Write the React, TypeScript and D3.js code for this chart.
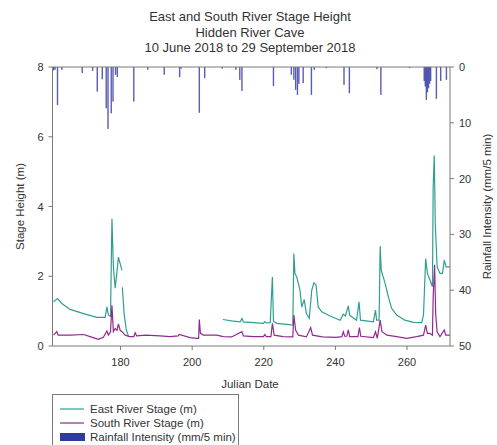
import React from "react";
import * as d3 from "d3";

const titleLines = [
  "East and South River Stage Height",
  "Hidden River Cave",
  "10 June 2018 to 29 September 2018",
];

const stageTicks = [0, 2, 4, 6, 8];
const dayTicks = [180, 200, 220, 240, 260];
const rainTicks = [0, 10, 20, 30, 40, 50];

// East River stage (m); NaN marks a gap in the record
const eastDay = [161.3, 162.4, 163.6, 165.9, 169.7, 173.4, 175.7, 176.2, 176.6, 177.2, 177.6, 178.0, 178.5, 179.0, 179.4, 179.9, 180.4,
  180.45,
  180.5, 181.0, 181.6, 182.2,
  182.3,
  208.6, 211.0, 213.4, 213.9, 214.3, 217.1, 219.9, 220.3, 220.7, 221.8, 222.4, 222.7, 223.6, 226.4, 228.1, 228.4, 228.7, 229.2, 230.1, 230.6, 231.3, 231.9, 232.7, 233.4, 234.0, 234.6, 235.2, 236.2, 238.5, 241.3, 242.2, 242.8, 243.6, 244.0, 245.9, 246.6, 247.0, 250.6, 251.2, 251.5, 252.2, 252.5, 252.8, 253.9, 254.8, 255.7, 257.1, 259.4, 261.8, 264.1, 264.6, 265.2, 265.7, 266.4, 267.1, 267.3, 267.6, 267.9, 268.4, 269.2, 269.9, 270.4, 270.9, 272.0];
const eastStage = [1.27, 1.36, 1.22, 1.05, 0.93, 0.82, 0.82, 1.12, 0.89, 0.85, 3.65, 2.27, 1.66, 2.12, 2.55, 2.36, 2.17,
  NaN,
  1.68, 0.93, 0.46, 0.29,
  NaN,
  0.76, 0.72, 0.69, 0.79, 0.69, 0.67, 0.65, 0.7, 0.66, 0.67, 1.98, 0.71, 0.65, 0.62, 0.6, 2.65, 2.08, 1.98, 1.6, 1.12, 1.33, 0.93, 0.79, 1.6, 1.81, 1.75, 1.12, 0.98, 0.86, 0.74, 0.91, 0.86, 1.15, 0.88, 0.74, 1.27, 0.74, 0.69, 1.03, 0.74, 0.74, 2.86, 2.17, 1.79, 1.41, 1.08, 0.89, 0.74, 0.68, 0.67, 0.89, 2.5, 2.08, 1.89, 1.7, 4.55, 5.46, 3.5, 2.27, 2.08, 2.08, 2.46, 2.27, 2.27];

// South River stage (m)
const southDay = [161.3, 162.2, 162.6, 165.9, 169.7, 171.5, 173.8, 175.2, 176.2, 176.6, 177.2, 177.6, 178.0, 178.5, 179.0, 179.4, 179.9, 180.4, 181.3, 182.5, 183.7, 184.1, 184.5, 187.1, 191.0, 193.8, 196.1, 196.4, 199.4, 201.3, 201.8, 202.0, 202.3, 203.1, 206.8, 208.7, 211.0, 213.9, 214.3, 217.1, 219.9, 220.3, 220.7, 222.0, 222.4, 222.9, 225.4, 228.1, 228.4, 228.9, 229.7, 231.9, 233.1, 233.6, 236.4, 240.1, 241.8, 242.2, 242.6, 243.2, 243.6, 244.0, 246.3, 246.7, 247.1, 250.6, 251.2, 251.7, 252.5, 253.0, 254.4, 257.1, 259.9, 262.7, 264.6, 265.2, 265.7, 266.4, 267.1, 267.3, 267.7, 268.0, 268.4, 269.2, 270.4, 270.8, 272.0];
const southStage = [0.31, 0.41, 0.31, 0.31, 0.33, 0.27, 0.19, 0.25, 0.43, 0.31, 0.41, 1.17, 0.41, 0.5, 0.45, 0.63, 0.45, 0.41, 0.31, 0.27, 0.27, 0.38, 0.29, 0.31, 0.29, 0.27, 0.29, 0.33, 0.24, 0.22, 0.22, 0.76, 0.37, 0.31, 0.31, 0.27, 0.26, 0.41, 0.29, 0.27, 0.27, 0.33, 0.27, 0.27, 0.65, 0.31, 0.27, 0.26, 0.89, 0.45, 0.31, 0.26, 0.53, 0.31, 0.26, 0.25, 0.27, 0.41, 0.28, 0.28, 0.46, 0.27, 0.27, 0.53, 0.28, 0.24, 0.41, 0.22, 0.74, 0.41, 0.31, 0.27, 0.22, 0.27, 0.31, 0.6, 0.36, 0.36, 0.31, 1.41, 2.33, 0.93, 0.41, 0.27, 0.46, 0.31, 0.31];

// Rainfall intensity (mm / 5 min)
const rainDay = [161.3, 161.7, 162.4, 163.6, 169.3, 172.2, 173.5, 174.9, 176.0, 176.5, 177.4, 177.9, 178.6, 179.1, 183.7, 187.6, 192.2, 196.5, 196.9, 202.0, 203.5, 208.4, 212.2, 213.3, 213.9, 222.7, 227.7, 228.4, 228.9, 229.4, 229.8, 231.0, 233.3, 234.1, 237.5, 242.4, 243.9, 251.6, 252.7, 260.7, 264.8, 265.1, 265.4, 265.7, 266.0, 266.3, 266.6, 268.2, 269.4, 271.0];
const rainMm = [0.6, 0.5, 6.8, 0.5, 1.1, 0.7, 4.4, 2.2, 7.4, 11.1, 8.3, 6.2, 1.4, 1.8, 6.2, 0.5, 1.4, 1.8, 0.3, 8.2, 2.0, 0.3, 0.5, 2.3, 4.3, 3.4, 1.4, 2.3, 4.1, 5.0, 3.0, 2.9, 5.0, 0.5, 0.2, 3.2, 4.7, 0.4, 5.0, 0.2, 2.5, 3.5, 5.9, 4.5, 3.8, 3.0, 2.5, 5.7, 2.5, 2.3];

const legendItems = ["East River Stage (m)", "South River Stage (m)", "Rainfall Intensity (mm/5 min)"];

const EAST = "#2e9e92";
const SOUTH = "#902a8e";
const RAIN = "#3d40a6";
const AXIS = "#7a7a7a";
const TEXT = "#333";
const FONT = "Liberation Sans, Arial, sans-serif";

export default function App() {
  const left = 52.5, right = 450, top = 67, bottom = 346;
  const x = d3.scaleLinear().domain([161, 272]).range([left, right]);
  const y = d3.scaleLinear().domain([0, 8]).range([bottom, top]);
  const yr = d3.scaleLinear().domain([0, 50]).range([top, bottom]);

  const eastPts = eastDay.map((d, i) => [d, eastStage[i]] as [number, number]);
  const southPts = southDay.map((d, i) => [d, southStage[i]] as [number, number]);
  const line = d3
    .line<[number, number]>()
    .defined((p) => !isNaN(p[1]))
    .x((p) => x(p[0]))
    .y((p) => y(p[1]));

  return (
    <svg width={497} height={445} style={{ position: "absolute", left: 0, top: 0, background: "#fff" }} fontFamily={FONT}>
      {titleLines.map((t, i) => (
        <text key={t} x={250} y={21 + i * 15.5} textAnchor="middle" fontSize={13} fill={TEXT}>
          {t}
        </text>
      ))}
      <clipPath id="plot">
        <rect x={left} y={top} width={right - left} height={bottom - top} />
      </clipPath>
      <g clipPath="url(#plot)">
        {rainDay.map((d, i) => (
          <rect key={i} x={x(d) - 0.7} y={top} width={1.4} height={yr(rainMm[i]) - top} fill={RAIN} opacity={0.85} />
        ))}
        <path d={line(eastPts) || ""} fill="none" stroke={EAST} strokeWidth={1.2} />
        <path d={line(southPts) || ""} fill="none" stroke={SOUTH} strokeWidth={1.2} />
      </g>
      {/* axes */}
      <line x1={left} x2={right} y1={top} y2={top} stroke={AXIS} />
      <line x1={left} x2={right} y1={bottom} y2={bottom} stroke={AXIS} />
      <line x1={left} x2={left} y1={top} y2={bottom} stroke={AXIS} />
      <line x1={right} x2={right} y1={top} y2={bottom} stroke={AXIS} />
      {stageTicks.map((t) => (
        <g key={t}>
          <line x1={left - 4} x2={left} y1={y(t)} y2={y(t)} stroke={AXIS} />
          <text x={left - 9} y={y(t) + 4} textAnchor="end" fontSize={11} fill={TEXT}>
            {t}
          </text>
        </g>
      ))}
      {dayTicks.map((t) => (
        <g key={t}>
          <line x1={x(t)} x2={x(t)} y1={bottom} y2={bottom + 4} stroke={AXIS} />
          <text x={x(t)} y={366} textAnchor="middle" fontSize={11} fill={TEXT}>
            {t}
          </text>
        </g>
      ))}
      {rainTicks.map((t) => (
        <g key={t}>
          <line x1={right} x2={right + 4} y1={yr(t)} y2={yr(t)} stroke={AXIS} />
          <text x={right + 9} y={yr(t) + 4} textAnchor="start" fontSize={11} fill={TEXT}>
            {t}
          </text>
        </g>
      ))}
      <text x={250} y={388} textAnchor="middle" fontSize={11.5} fill={TEXT}>
        Julian Date
      </text>
      <text transform={`translate(24,${(top + bottom) / 2}) rotate(-90)`} textAnchor="middle" fontSize={11.5} fill={TEXT}>
        Stage Height (m)
      </text>
      <text transform={`translate(491,${(top + bottom) / 2}) rotate(-90)`} textAnchor="middle" fontSize={11.5} fill={TEXT}>
        Rainfall Intensity (mm/5 min)
      </text>
      {/* legend */}
      <rect x={52.5} y={394.5} width={186} height={60} fill="#fff" stroke={AXIS} />
      {legendItems.map((t, i) => {
        const cy = 409 + i * 14;
        return (
          <g key={t}>
            {i < 2 ? (
              <line x1={60} x2={84} y1={cy} y2={cy} stroke={i === 0 ? EAST : SOUTH} strokeWidth={1.2} />
            ) : (
              <rect x={60} y={cy - 4} width={25} height={8} fill="#2f3c9c" />
            )}
            <text x={90} y={cy + 4} fontSize={11.5} fill={TEXT}>
              {t}
            </text>
          </g>
        );
      })}
    </svg>
  );
}
